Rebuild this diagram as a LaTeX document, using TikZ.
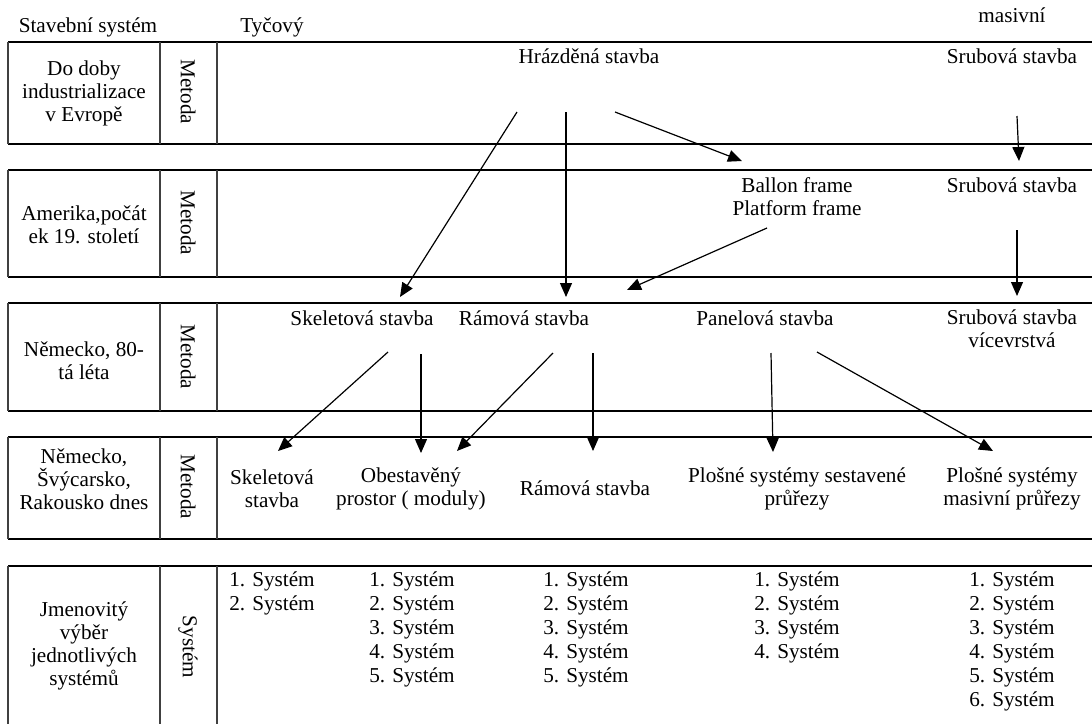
\documentclass[tikz,border=0pt]{standalone}
\usepackage{fontspec}
\setmainfont{Liberation Serif}
\usetikzlibrary{arrows.meta}

\tikzset{
  hline/.style={line width=1pt},
  vline/.style={line width=0.6pt, black!75},
  arw/.style={-{Triangle[length=7pt,width=6pt]}, line width=0.6pt},
  lbl/.style={align=center, inner sep=0pt},
  vlbl/.style={rotate=-90, inner sep=0pt}
}

\begin{document}
\begin{tikzpicture}[x=0.5pt, y=-0.5pt, font=\fontsize{10.6}{11.5}\selectfont]
\useasboundingbox (0,0) rectangle (1092,724);

% Headings
\node[lbl] (hsys) at (88,27) {Stavební systém};
\node[lbl] (htyc) at (272,27) {Tyčový};
\node[lbl] (hmas) at (1012,15) {masivní};

% Bands
\foreach \ya/\yb in {42/144, 170/277, 303/411, 437/539} {
  \draw[hline] (8,\ya) -- (1092,\ya);
  \draw[hline] (8,\yb) -- (1092,\yb);
  \foreach \x in {8,160,217} \draw[vline] (\x,\ya) -- (\x,\yb);
}
\draw[hline] (8,566) -- (1092,566);
\foreach \x in {8,160,217} \draw[vline] (\x,566) -- (\x,724);

% Row labels
\node[lbl] (row1) at (84,93) {Do doby\\industrializace\\v Evropě};
\node[lbl] (row2) at (84,225) {Amerika,počát\\ek 19. století};
\node[lbl] (row3) at (84,361) {Německo, 80-\\tá léta};
\node[lbl] (row4) at (84,479) {Německo,\\Švýcarsko,\\Rakousko dnes};
\node[lbl] (row5) at (84,646) {Jmenovitý\\výběr\\jednotlivých\\systémů};
\foreach \y [count=\i] in {92,223,357,487} \node[vlbl] (met\i) at (188,\y) {Metoda};
\node[vlbl] (met5) at (188,647) {Systém};

% Row 1
\node[lbl] (hraz) at (589,56) {Hrázděná stavba};
\node[lbl] (srub1) at (1012,56) {Srubová stavba};

% Row 2
\node[lbl] (ballon) at (797,197) {Ballon frame\\Platform frame};
\node[lbl] (srub2) at (1012,185) {Srubová stavba};

% Row 3
\node[lbl] (skel) at (362,318) {Skeletová stavba};
\node[lbl] (rama) at (524,318) {Rámová stavba};
\node[lbl] (panel) at (765,318) {Panelová stavba};
\node[lbl] (srub3) at (1012,329) {Srubová stavba\\vícevrstvá};

% Row 4
\node[lbl] (skel4) at (272,489) {Skeletová\\stavba};
\node[lbl] (obest) at (411,489) {Obestavěný\\prostor ( moduly)};
\node[lbl] (rama4) at (585,488) {Rámová stavba};
\node[lbl] (plos1) at (797,489) {Plošné systémy sestavené\\průřezy};
\node[lbl] (plos2) at (1012,489) {Plošné systémy\\masivní průřezy};

% Row 5: lists of systems
\foreach \cx/\n [count=\c] in {272/2, 412/5, 586/5, 797/4, 1012/6} {
  \foreach \i in {1,...,\n}
    \node[lbl] (sys\c-\i) at (\cx,{581+24*(\i-1)}) {\i. Systém};
}

% Arrow ends
\coordinate (a1) at (517,112);  \coordinate (b1) at (400,297);
\coordinate (a2) at (566,112);  \coordinate (b2) at (566,297);
\coordinate (a3) at (615,112);  \coordinate (b3) at (742,161);
\coordinate (a4) at (1017,116); \coordinate (b4) at (1019,161);
\coordinate (a5) at (767,228);  \coordinate (b5) at (627,290);
\coordinate (a6) at (1017,230); \coordinate (b6) at (1017,296);
\coordinate (a7) at (388,352);  \coordinate (b7) at (278,451);
\coordinate (a8) at (421,354);  \coordinate (b8) at (421,453);
\coordinate (a9) at (553,353);  \coordinate (b9) at (457,451);
\coordinate (a10) at (593,353); \coordinate (b10) at (593,451);
\coordinate (a11) at (771,353); \coordinate (b11) at (773,452);
\coordinate (a12) at (817,352); \coordinate (b12) at (993,451);
\foreach \k in {1,...,12} \draw[arw] (a\k) -- (b\k);
\end{tikzpicture}
\end{document}
